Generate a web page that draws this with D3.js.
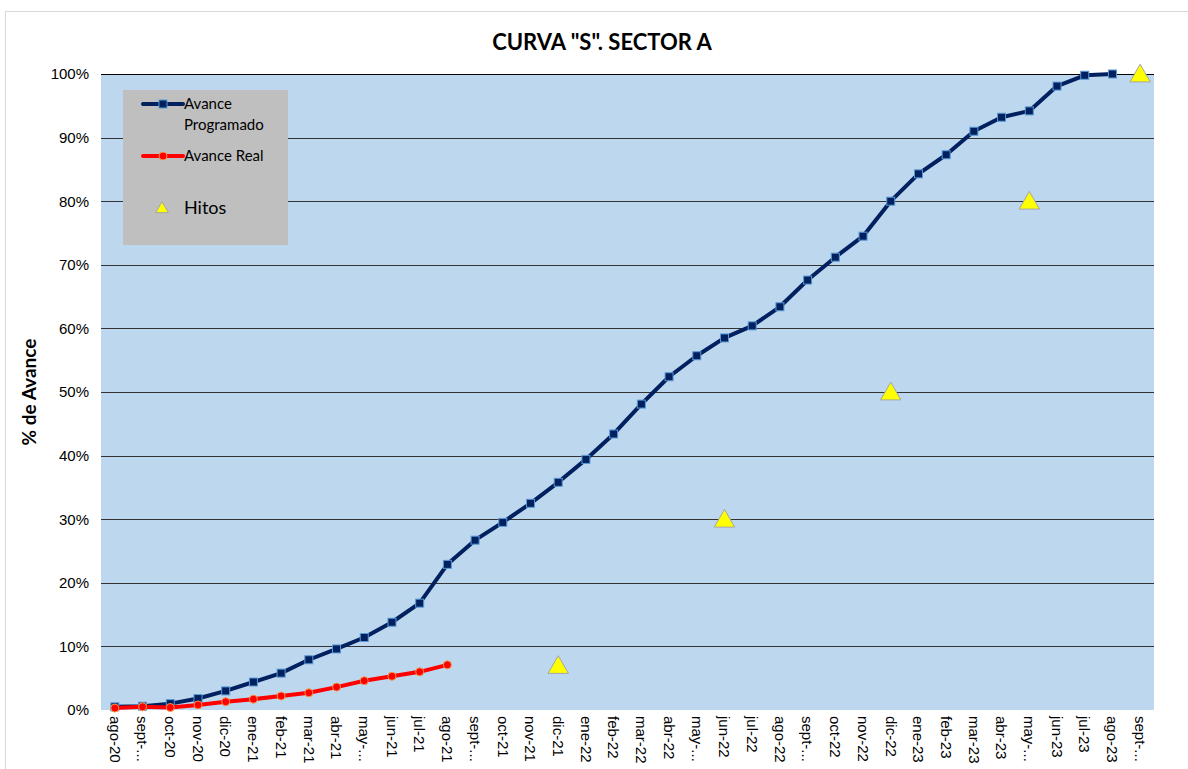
<!DOCTYPE html>
<html>
<head>
<meta charset="utf-8">
<script src="https://cdn.jsdelivr.net/npm/d3@7"></script>
<style>
  body { margin: 0; background: #fff; font-family: Lato, "Open Sans", sans-serif; }
  .tick text { font-size: 15px; fill: #000; }
</style>
</head>
<body>
<svg id="chart" width="1188" height="769"></svg>
<script>
let months = ["ago-20","sept-...","oct-20","nov-20","dic-20","ene-21","feb-21","mar-21","abr-21","may-...",
  "jun-21","jul-21","ago-21","sept-...","oct-21","nov-21","dic-21","ene-22","feb-22","mar-22","abr-22","may-...",
  "jun-22","jul-22","ago-22","sept-...","oct-22","nov-22","dic-22","ene-23","feb-23","mar-23","abr-23","may-...",
  "jun-23","jul-23","ago-23","sept-..."];
// unique keys since some labels repeat
let keys = months.map((m, i) => i);

let programado = [0.5,0.6,1.0,1.8,3.0,4.4,5.8,7.9,9.6,11.4,13.8,16.8,22.9,26.7,29.5,32.5,35.8,39.4,43.4,48.1,
  52.4,55.7,58.5,60.4,63.4,67.6,71.2,74.5,80.0,84.3,87.3,91.0,93.2,94.2,98.1,99.8,100.0];
let real = [0.3,0.5,0.4,0.8,1.3,1.7,2.2,2.7,3.6,4.6,5.3,6.0,7.1];
let hitos = [{i: 16, v: 7}, {i: 22, v: 30}, {i: 28, v: 50}, {i: 33, v: 80}, {i: 37, v: 100}];
let yTicks = [0,10,20,30,40,50,60,70,80,90,100];

let margin = {left: 101, right: 34, top: 74, bottom: 59};
let width = 1188 - margin.left - margin.right;
let height = 769 - margin.top - margin.bottom;

let svg = d3.select("#chart");

// outer chart border
svg.append("rect")
    .attr("x", 5.5).attr("y", 11.5)
    .attr("width", 1190).attr("height", 770)
    .attr("fill", "#fff")
    .attr("stroke", "#d9d9d9");

svg.append("text")
    .text('CURVA "S". SECTOR A')
    .attr("x", 602).attr("y", 50)
    .attr("text-anchor", "middle")
    .attr("font-size", "22px")
    .attr("font-weight", "bold");

let g = svg.append("g")
    .attr("transform", "translate(" + margin.left + "," + margin.top + ")");

let x = d3.scaleBand()
    .domain(keys)
    .range([0, width]);

let y = d3.scaleLinear()
    .domain([0, 100])
    .range([height, 0]);

g.append("rect")
    .attr("width", width).attr("height", height)
    .attr("fill", "#bdd7ee");

g.selectAll(".grid")
    .data(yTicks.filter(d => d > 0))
    .enter().append("line")
    .attr("class", "grid")
    .attr("x1", 0).attr("x2", width)
    .attr("y1", d => Math.round(y(d)) + 0.5)
    .attr("y2", d => Math.round(y(d)) + 0.5)
    .attr("stroke", d => d == 100 ? "#000" : "#333")
    .attr("stroke-width", 1.2);

let yAxis = g.append("g")
    .call(d3.axisLeft(y).tickValues(yTicks).tickFormat(d => d + "%").tickSize(0).tickPadding(12));
yAxis.select(".domain").remove();

let xAxis = g.append("g")
    .attr("transform", "translate(0," + height + ")")
    .call(d3.axisBottom(x).tickFormat(i => months[i]).tickSize(0));
xAxis.select(".domain").remove();
xAxis.selectAll("text")
    .attr("transform", "rotate(90)")
    .attr("text-anchor", "start")
    .attr("dy", "0.35em")
    .attr("x", 6)
    .attr("y", 0);

svg.append("text")
    .text("% de Avance")
    .attr("transform", "translate(36," + (margin.top + height / 2) + ") rotate(-90)")
    .attr("text-anchor", "middle")
    .attr("font-size", "19px")
    .attr("font-weight", "bold");

let cx = i => x(i) + x.bandwidth() / 2;

let line = d3.line()
    .x((d, i) => cx(i))
    .y(d => y(d));

g.append("path")
    .datum(programado)
    .attr("d", line)
    .attr("fill", "none")
    .attr("stroke", "#002060")
    .attr("stroke-width", 4)
    .attr("stroke-linejoin", "round");

g.selectAll(".sq")
    .data(programado)
    .enter().append("rect")
    .attr("class", "sq")
    .attr("x", (d, i) => cx(i) - 4)
    .attr("y", d => y(d) - 4)
    .attr("width", 8).attr("height", 8)
    .attr("fill", "#002060")
    .attr("stroke", "#5b9bd5")
    .attr("stroke-width", 1);

g.append("path")
    .datum(real)
    .attr("d", line)
    .attr("fill", "none")
    .attr("stroke", "#ff0000")
    .attr("stroke-width", 4)
    .attr("stroke-linejoin", "round");

g.selectAll(".dot")
    .data(real)
    .enter().append("circle")
    .attr("class", "dot")
    .attr("cx", (d, i) => cx(i))
    .attr("cy", d => y(d))
    .attr("r", 4)
    .attr("fill", "#ff0000")
    .attr("stroke", "#f79646")
    .attr("stroke-width", 1);

let tri = d3.symbol().type(d3.symbolTriangle).size(180);
g.selectAll(".hito")
    .data(hitos)
    .enter().append("path")
    .attr("class", "hito")
    .attr("d", tri)
    .attr("transform", d => "translate(" + cx(d.i) + "," + (y(d.v) + 2) + ")")
    .attr("fill", "#ffff00")
    .attr("stroke", "#a5a5a5")
    .attr("stroke-width", 1);

// legend
let legend = svg.append("g").attr("transform", "translate(123,90)");
legend.append("rect")
    .attr("width", 165).attr("height", 155)
    .attr("fill", "#bfbfbf");

legend.append("line").attr("x1", 20).attr("x2", 60).attr("y1", 14).attr("y2", 14)
    .attr("stroke", "#002060").attr("stroke-width", 4).attr("stroke-linecap", "round");
legend.append("rect").attr("x", 36).attr("y", 10).attr("width", 8).attr("height", 8)
    .attr("fill", "#002060").attr("stroke", "#5b9bd5");
legend.append("text").text("Avance").attr("x", 61).attr("y", 19).attr("font-size", "15px");
legend.append("text").text("Programado").attr("x", 61).attr("y", 40).attr("font-size", "15px");

legend.append("line").attr("x1", 20).attr("x2", 60).attr("y1", 66).attr("y2", 66)
    .attr("stroke", "#ff0000").attr("stroke-width", 4).attr("stroke-linecap", "round");
legend.append("circle").attr("cx", 40).attr("cy", 66).attr("r", 4)
    .attr("fill", "#ff0000").attr("stroke", "#f79646");
legend.append("text").text("Avance Real").attr("x", 61).attr("y", 71).attr("font-size", "15px");

legend.append("path").attr("d", d3.symbol().type(d3.symbolTriangle).size(70))
    .attr("transform", "translate(39,119)")
    .attr("fill", "#ffff00").attr("stroke", "#a5a5a5");
legend.append("text").text("Hitos").attr("x", 61).attr("y", 124).attr("font-size", "18px");
</script>
</body>
</html>
